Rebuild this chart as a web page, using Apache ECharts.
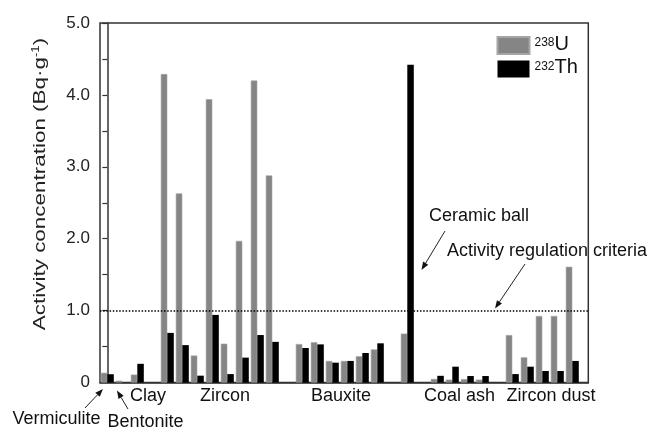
<!DOCTYPE html>
<html>
<head>
<meta charset="utf-8">
<script src="https://cdn.jsdelivr.net/npm/echarts@6/dist/echarts.min.js"></script>
<style>
html,body{margin:0;padding:0;background:#fff;}
#c{width:649px;height:431px;}
</style>
</head>
<body>
<div id="c"></div>
<script>
// One slot per sample; '' marks an empty gap slot between groups
const samples = ['Vermiculite','Bentonite','Clay','',
  'Zircon 1','Zircon 2','Zircon 3','Zircon 4','Zircon 5','Zircon 6','Zircon 7','Zircon 8','',
  'Bauxite 1','Bauxite 2','Bauxite 3','Bauxite 4','Bauxite 5','Bauxite 6','',
  'Ceramic ball','',
  'Coal ash 1','Coal ash 2','Coal ash 3','Coal ash 4','',
  'Zircon dust 1','Zircon dust 2','Zircon dust 3','Zircon dust 4','Zircon dust 5'];
const U238 = [0.135,0.025,0.11,null,
  4.29,2.63,0.375,3.94,0.54,1.97,4.20,2.88,null,
  0.535,0.56,0.30,0.30,0.365,0.46,null,
  0.68,null,
  0.05,0.04,0.047,0.04,null,
  0.66,0.35,0.925,0.925,1.61];
const Th232 = [0.115,null,0.26,null,
  0.69,0.52,0.095,0.94,0.117,0.346,0.66,0.565,null,
  0.48,0.53,0.276,0.30,0.41,0.545,null,
  4.42,null,
  0.093,0.22,0.09,0.09,null,
  0.117,0.22,0.16,0.16,0.30];
const criteria = 1.0;
const yTicks = [0, 0.5, 1, 1.5, 2, 2.5, 3, 3.5, 4, 4.5, 5];

const chart = echarts.init(document.getElementById('c'), null, {renderer: 'canvas'});
const FONT = '"Liberation Sans", Arial, Helvetica, sans-serif';

function arrow(x1, y1, x2, y2) {
  const ang = Math.atan2(y2 - y1, x2 - x1);
  const L = 8, W = 3;
  const bx = x2 - L * Math.cos(ang), by = y2 - L * Math.sin(ang);
  const px = -Math.sin(ang) * W, py = Math.cos(ang) * W;
  return [
    {type: 'line', shape: {x1: x1, y1: y1, x2: bx, y2: by}, style: {stroke: '#222', lineWidth: 1}, silent: true},
    {type: 'polygon', shape: {points: [[x2, y2], [bx + px, by + py], [bx - px, by - py]]}, style: {fill: '#111'}, silent: true}
  ];
}
function label(text, cx, cy) {
  return {type: 'text', x: cx, y: cy, silent: true,
    style: {text: text, font: '18px ' + FONT, fill: '#111', align: 'center', verticalAlign: 'middle'}};
}

const graphics = [].concat(
  [{type: 'text', x: 40, y: 184, rotation: Math.PI / 2, scaleX: 1.32, silent: true,
    style: {text: '{m|Activity concentration (Bq·g}{s|-1}{m|)}', align: 'center', verticalAlign: 'middle', fill: '#222',
      rich: {m: {fontSize: 17, fontFamily: FONT, lineHeight: 18, verticalAlign: 'bottom'},
             s: {fontSize: 10, fontFamily: FONT, lineHeight: 18, verticalAlign: 'top'}}}}],
  [label('Clay', 148, 396), label('Zircon', 225, 396), label('Bauxite', 341, 396),
   label('Coal ash', 459.5, 396), label('Zircon dust', 551, 396),
   label('Vermiculite', 56.5, 419), label('Bentonite', 145.5, 422),
   label('Ceramic ball', 479, 216), label('Activity regulation criteria', 547, 251)],
  arrow(85, 408, 103, 389),
  arrow(128, 409, 117, 390.5),
  arrow(445, 231, 421.5, 270),
  arrow(525, 264, 495, 308.5)
);

const option = {
  animation: false,
  backgroundColor: '#fff',
  grid: {left: 100, right: 60.7, top: 23, bottom: 48.5, show: true, borderColor: '#333', borderWidth: 1.5, backgroundColor: 'transparent'},
  legend: {
    orient: 'vertical', left: 491.5, top: 29, itemWidth: 32, itemHeight: 17, itemGap: 2.5, icon: 'rect',
    data: ['U238', 'Th232'],
    formatter: function (n) { return n === 'U238' ? '{s|238}{m|U}' : '{s|232}{m|Th}'; },
    textStyle: {color: '#111', rich: {
      m: {fontSize: 20, fontFamily: FONT, lineHeight: 17, verticalAlign: 'bottom'},
      s: {fontSize: 12, fontFamily: FONT, lineHeight: 17, verticalAlign: 'top'}}}
  },
  xAxis: {
    type: 'value', min: -0.487, max: 32.067,
    axisLine: {show: true, onZero: false, lineStyle: {color: '#333', width: 1.5}},
    axisTick: {show: false}, axisLabel: {show: false}, splitLine: {show: false}
  },
  yAxis: {
    type: 'value', min: 0, max: 5, interval: 0.5,
    axisLine: {show: true, lineStyle: {color: '#333', width: 1.5}},
    axisTick: {show: true, inside: false, length: 5, lineStyle: {color: '#333', width: 1.2}},
    axisLabel: {margin: 10, fontSize: 17, fontFamily: FONT, color: '#222',
      formatter: function (v) { if (v === 0) return '0'; return (Math.abs(v % 1) < 1e-9 && yTicks.indexOf(v) >= 0) ? v.toFixed(1) : ''; }},
    splitLine: {show: false}
  },
  series: [
    {name: 'U238', type: 'bar', barWidth: 6.5, barGap: '0%',
      itemStyle: {color: '#858585', borderColor: '#a5a5a5', borderWidth: 0.6},
      data: U238.map(function (v, i) { return [i, v]; }),
      markLine: {silent: true, symbol: ['none', 'none'], label: {show: false},
        lineStyle: {type: [1.5, 1.7], color: '#000', width: 1.6},
        data: [{yAxis: criteria}]}
    },
    {name: 'Th232', type: 'bar', barWidth: 6.5, barGap: '0%',
      itemStyle: {color: '#000'},
      data: Th232.map(function (v, i) { return [i, v]; })
    }
  ],
  graphic: graphics
};
chart.setOption(option);
</script>
</body>
</html>
